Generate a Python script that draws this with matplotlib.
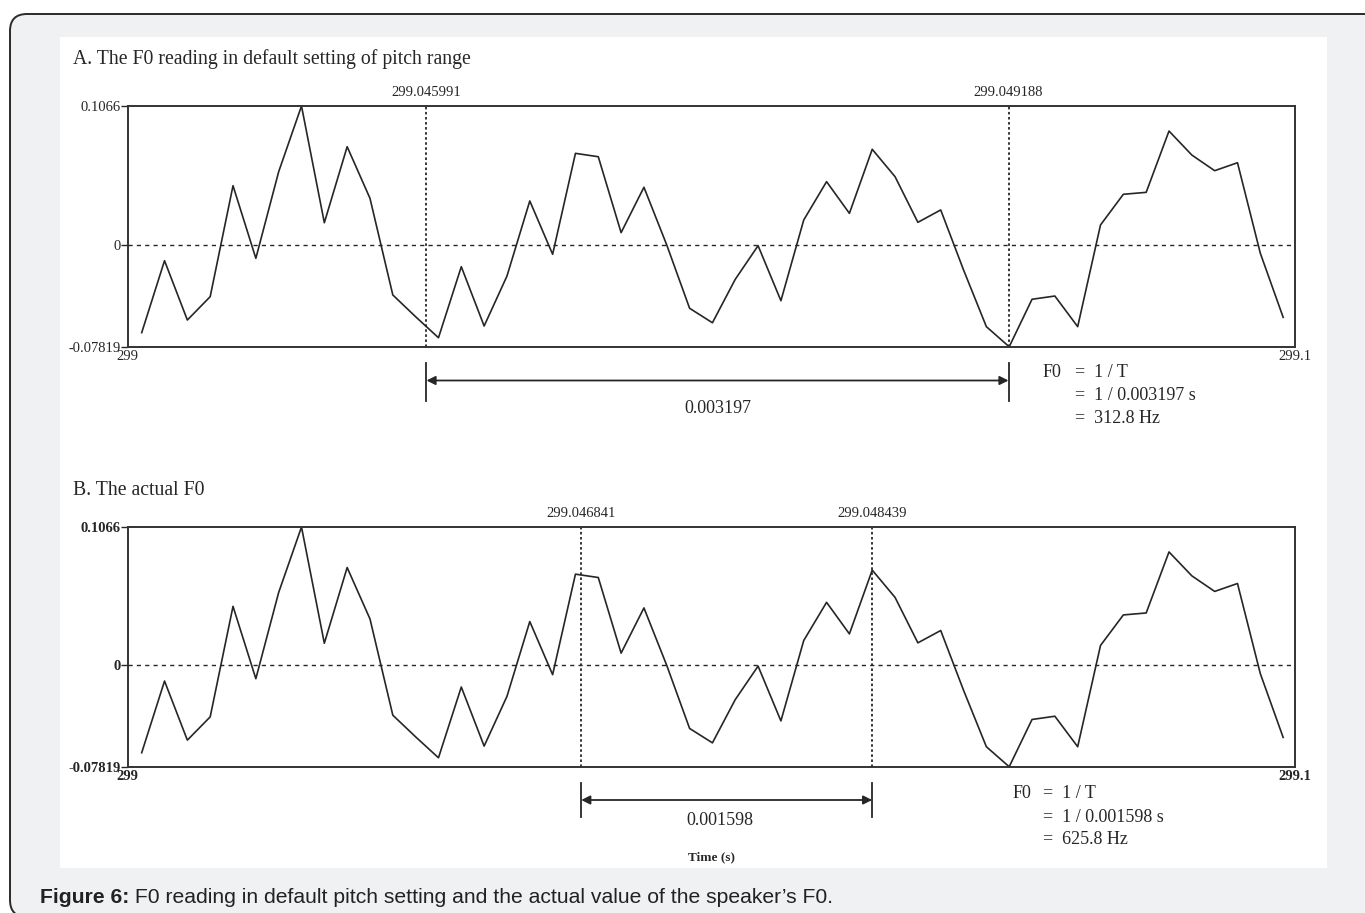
import matplotlib.pyplot as plt
from matplotlib.patches import FancyBboxPatch, Rectangle

plt.rcParams['font.family'] = 'Liberation Serif'
INK = '#262626'

# waveform samples (same signal in both panels)
time_s = [299.0444266, 299.0445520, 299.0446774, 299.0448028, 299.0449282,
          299.0450536, 299.0451790, 299.0453044, 299.0454298, 299.0455552,
          299.0456806, 299.0458060, 299.0459314, 299.0460568, 299.0461822,
          299.0463076, 299.0464330, 299.0465584, 299.0466838, 299.0468092,
          299.0469346, 299.0470600, 299.0471854, 299.0473108, 299.0474362,
          299.0475616, 299.0476870, 299.0478124, 299.0479378, 299.0480632,
          299.0481886, 299.0483140, 299.0484394, 299.0485648, 299.0486902,
          299.0488156, 299.0489410, 299.0490664, 299.0491918, 299.0493172,
          299.0494426, 299.0495680, 299.0496934, 299.0498188, 299.0499442,
          299.0500696, 299.0501950, 299.0503204, 299.0504458, 299.0505712,
          299.0506966]
amplitude = [-0.0672, -0.0120, -0.0575, -0.0396, 0.0455, -0.0102, 0.0562, 0.1066, 0.0171, 0.0754,
             0.0358, -0.0383, -0.0550, -0.0711, -0.0166, -0.0621, -0.0238, 0.0338, -0.0071, 0.0703,
             0.0677, 0.0095, 0.0443, 0.0000, -0.0485, -0.0596, -0.0263, -0.0005, -0.0427, 0.0192,
             0.0486, 0.0243, 0.0734, 0.0524, 0.0174, 0.0269, -0.0191, -0.0626, -0.0780, -0.0416,
             -0.0391, -0.0626, 0.0154, 0.0389, 0.0404, 0.0874, 0.0690, 0.0570, 0.0631, -0.0063,
             -0.0554]

t_left, t_right = 299.0443486, 299.0507617
y_low, y_high = -0.07819, 0.1066
xtick_labels = ['299', '299.1']
ytick_labels = ['-0.07819', '0', '0.1066']

titles = ['A. The F0 reading in default setting of pitch range', 'B. The actual F0']
marks_a = [299.045991, 299.049188]
marks_b = [299.046841, 299.048439]
periods = ['0.003197', '0.001598']
f0_values = ['312.8 Hz', '625.8 Hz']

W, H = 1365, 913
fig = plt.figure(figsize=(W / 100, H / 100), dpi=100)
fig.patch.set_facecolor('white')


def fx(x):
    return x / W


def fy(y):
    return 1 - y / H


# page card + white image area (kept below the axes)
fig.patches.append(FancyBboxPatch((10, -4), 1420, H - 14 + 4,
                                  boxstyle='round,pad=0,rounding_size=17',
                                  transform=None, fc='#f0f1f3', ec='#2a2a2a', lw=1.4,
                                  zorder=-10))
fig.patches.append(Rectangle((60, H - 868), 1267, 831, transform=None, fc='white', ec='none',
                             zorder=-9))


def draw_panel(ax, marks, period, bold, bar_y, arrow_y, label_y, label_shift):
    ax.set_facecolor('none')
    ax.plot(time_s, amplitude, color=INK, lw=1.2)
    ax.axhline(0, color=INK, lw=1.0, ls=(0, (3, 3)))
    for m in marks:
        ax.axvline(m, color=INK, lw=1.3, ls=(0, (1.4, 1.4)))
        ax.annotate('%.6f' % m, xy=(m, 1), xycoords=('data', 'axes fraction'),
                    xytext=(0, 7), textcoords='offset points', ha='center', va='baseline',
                    fontsize=10.5, color=INK)
    ax.set_xlim(t_left, t_right)
    ax.set_ylim(y_low, y_high)
    ax.set_xticks([t_left, t_right])
    ax.set_xticklabels(xtick_labels)
    ax.set_yticks([y_low, 0, y_high])
    ax.set_yticklabels(ytick_labels)
    w = 'bold' if bold else 'normal'
    for lab in ax.get_xticklabels() + ax.get_yticklabels():
        lab.set_fontweight(w)
        lab.set_color(INK)
    ax.tick_params(axis='y', length=5, width=1, pad=0, labelsize=10.5, color=INK)
    ax.tick_params(axis='x', length=0, pad=2, labelsize=10.5)
    for s in ax.spines.values():
        s.set_color('#333333')
        s.set_linewidth(1.4)
    # period bracket below the axes
    tr = ax.get_xaxis_transform()
    for m in marks:
        ax.plot([m, m], bar_y, color=INK, lw=1.3, transform=tr, clip_on=False)
    ax.annotate('', xy=(marks[1], arrow_y), xytext=(marks[0], arrow_y),
                xycoords=tr, textcoords=tr,
                arrowprops=dict(arrowstyle='<|-|>', color=INK, lw=1.3,
                                mutation_scale=13, shrinkA=0, shrinkB=0))
    ax.annotate(period, xy=((marks[0] + marks[1]) / 2, label_y), xycoords=tr,
                xytext=(label_shift, 0), textcoords='offset points',
                ha='center', va='baseline', fontsize=13, color=INK)


axA = fig.add_axes([fx(127.5), fy(347), (1295 - 127.5) / W, (347 - 106) / H])
axB = fig.add_axes([fx(127.5), fy(767), (1295 - 127.5) / W, (767 - 527) / H])

draw_panel(axA, marks_a, periods[0], False,
           [-16 / 241, -54 / 241], -33.5 / 241, -66 / 241, 0)
draw_panel(axB, marks_b, periods[1], True,
           [-16 / 240, -50 / 240], -33 / 240, -58 / 240, -5)

fig.text(fx(73), fy(64), titles[0], fontsize=14.2, color=INK, va='baseline')
fig.text(fx(73), fy(495), titles[1], fontsize=14.2, color=INK, va='baseline')

# F0 formulas
for (x0, x1, ys, per, f0) in [(1043, 1075, [377, 400, 423], periods[0], f0_values[0]),
                              (1013, 1043, [798, 821.5, 844], periods[1], f0_values[1])]:
    fig.text(fx(x0), fy(ys[0]), 'F0', fontsize=13, color=INK, va='baseline')
    fig.text(fx(x1), fy(ys[0]), '=  1 / T', fontsize=13, color=INK, va='baseline')
    fig.text(fx(x1), fy(ys[1]), '=  1 / %s s' % per, fontsize=13, color=INK, va='baseline')
    fig.text(fx(x1), fy(ys[2]), '=  %s' % f0, fontsize=13, color=INK, va='baseline')

fig.text(fx(712), fy(860), 'Time (s)', fontsize=9.5, fontweight='bold', color=INK,
         ha='center', va='baseline')

cap = fig.text(fx(40), fy(903), 'Figure 6:', family='Liberation Sans', fontweight='bold',
               fontsize=15.2, color='#222222', va='baseline')
axB.annotate(' F0 reading in default pitch setting and the actual value of the speaker\u2019s F0.',
             xy=(1, 0), xycoords=cap, va='bottom', ha='left', family='Liberation Sans',
             fontsize=15.2, color='#222222', annotation_clip=False)

fig.savefig('out.png', dpi=100)
